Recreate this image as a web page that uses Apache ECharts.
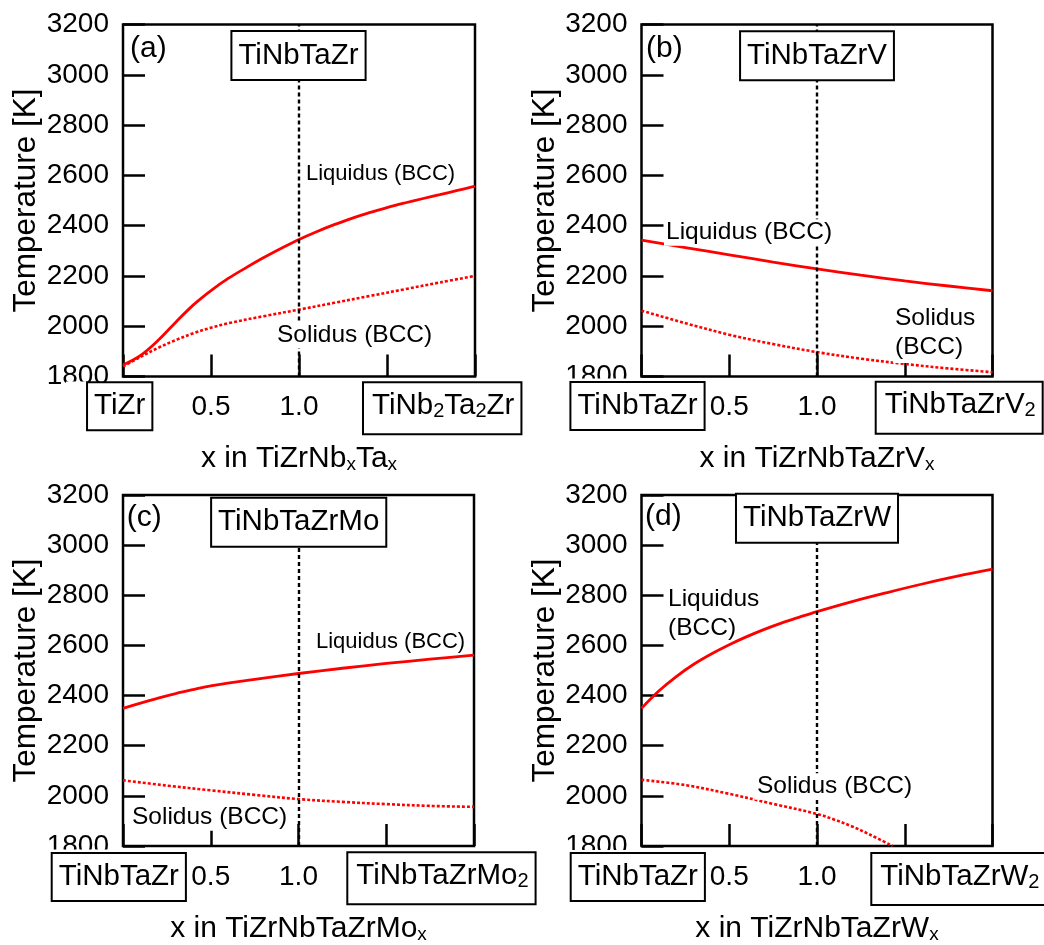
<!DOCTYPE html>
<html>
<head>
<meta charset="utf-8">
<script src="https://cdn.jsdelivr.net/npm/echarts@6/dist/echarts.min.js"></script>
<style>
  html, body { margin: 0; padding: 0; background: #fff; }
  #chart { width: 1044px; height: 945px; }
</style>
</head>
<body>
<div id="chart"></div>
<script>
// ---- Liquidus / solidus temperatures (K) versus composition x ----

// (a) TiZrNb_xTa_x
const aLiqX = [0, 0.1, 0.2, 0.3, 0.4, 0.5, 0.6, 0.7, 0.8, 0.9, 1.0, 1.1, 1.2, 1.3, 1.4, 1.5, 1.6, 1.7, 1.8, 1.9, 2.0];
const aLiq  = [1846, 1884, 1944, 2016, 2085, 2142, 2191, 2233, 2273, 2310, 2345, 2376, 2404, 2429, 2452, 2472, 2490, 2507, 2523, 2540, 2557];
const aSolX = [0, 0.1, 0.2, 0.3, 0.4, 0.5, 0.6, 0.8, 1.0, 1.2, 1.4, 1.6, 1.8, 2.0];
const aSol  = [1840, 1878, 1914, 1945, 1972, 1994, 2012, 2040, 2066, 2093, 2120, 2147, 2174, 2200];

// (b) TiZrNbTaZrV_x
const bX   = [0, 0.25, 0.5, 0.75, 1.0, 1.25, 1.5, 1.75, 2.0];
const bLiq = [2342, 2313, 2284, 2255, 2228, 2203, 2180, 2160, 2141];
const bSol = [2062, 2012, 1966, 1929, 1897, 1871, 1850, 1832, 1817];

// (c) TiZrNbTaZrMo_x
const cLiqX = [0, 0.1, 0.2, 0.3, 0.4, 0.5, 0.75, 1.0, 1.25, 1.5, 1.75, 2.0];
const cLiq  = [2349, 2370, 2390, 2408, 2424, 2439, 2465, 2488, 2509, 2528, 2545, 2561];
const cSolX = [0, 0.25, 0.5, 0.75, 1.0, 1.25, 1.5, 1.75, 2.0];
const cSol  = [2062, 2041, 2022, 2004, 1987, 1976, 1967, 1960, 1956];

// (d) TiZrNbTaZrW_x
const dLiqX = [0, 0.1, 0.2, 0.3, 0.4, 0.5, 0.6, 0.7, 0.8, 0.9, 1.0, 1.2, 1.4, 1.6, 1.8, 2.0];
const dLiq  = [2349, 2419, 2477, 2526, 2567, 2603, 2635, 2664, 2690, 2713, 2735, 2775, 2811, 2845, 2876, 2904];
const dSolX = [0, 0.25, 0.5, 0.75, 1.0, 1.1, 1.2, 1.3, 1.43];
const dSol  = [2064, 2043, 2008, 1968, 1928, 1905, 1878, 1846, 1800];

// axis ranges and labelled ticks
const xRange = [0, 2];
const xStep = 0.5;
const xLabelled = [0.5, 1.0];
const yRange = [1800, 3200];
const yStep = 200;
const refX = 1.0;   // equiatomic composition marker

// text
const yName = 'Temperature [K]';
const xNames = ['x in TiZrNb{s|x}Ta{s|x}', 'x in TiZrNbTaZrV{s|x}', 'x in TiZrNbTaZrMo{s|x}', 'x in TiZrNbTaZrW{s|x}'];
const panelTags = ['(a)', '(b)', '(c)', '(d)'];
const titles = ['TiNbTaZr', 'TiNbTaZrV', 'TiNbTaZrMo', 'TiNbTaZrW'];
const startAlloys = ['TiZr', 'TiNbTaZr', 'TiNbTaZr', 'TiNbTaZr'];
const endAlloys = ['TiNb{s|2}Ta{s|2}Zr', 'TiNbTaZrV{s|2}', 'TiNbTaZrMo{s|2}', 'TiNbTaZrW{s|2}'];

const FONT = '"Liberation Sans", Arial, Helvetica, sans-serif';
const RED = '#ff0000';

const zip = (xs, ys) => xs.map((x, i) => [x, ys[i]]);

const panels = [
  { grid: { left: 123, top: 24.5, width: 352, height: 352 }, liq: zip(aLiqX, aLiq), sol: zip(aSolX, aSol) },
  { grid: { left: 641.5, top: 24.5, width: 351, height: 352 }, liq: zip(bX, bLiq), sol: zip(bX, bSol) },
  { grid: { left: 123, top: 495, width: 351, height: 353 }, liq: zip(cLiqX, cLiq), sol: zip(cSolX, cSol) },
  { grid: { left: 641.5, top: 495, width: 351, height: 353.5 }, liq: zip(dLiqX, dLiq), sol: zip(dSolX, dSol) }
];

const tickStyle = { color: '#000', width: 2.5 };

const option = {
  animation: false,
  backgroundColor: '#fff',
  grid: panels.map(p => Object.assign({ show: true, borderColor: '#000', borderWidth: 2.5, backgroundColor: 'transparent' }, p.grid)),
  xAxis: panels.map((p, i) => ({
    gridIndex: i, type: 'value', min: xRange[0], max: xRange[1], interval: xStep,
    name: xNames[i], nameLocation: 'middle', nameGap: 67,
    nameTextStyle: {
      fontSize: 30, lineHeight: 31, color: '#000', fontFamily: FONT,
      rich: { s: { fontSize: 19, lineHeight: 9, verticalAlign: 'bottom', fontFamily: FONT, color: '#000' } }
    },
    axisLine: { show: false },
    axisTick: { inside: true, length: 22, lineStyle: tickStyle },
    axisLabel: {
      margin: 17, fontSize: 28, color: '#000', fontFamily: FONT,
      formatter: v => xLabelled.some(t => Math.abs(t - v) < 1e-9) ? v.toFixed(1) : ''
    },
    splitLine: { show: false }
  })),
  yAxis: panels.map((p, i) => ({
    gridIndex: i, type: 'value', min: yRange[0], max: yRange[1], interval: yStep,
    name: yName, nameLocation: 'middle', nameGap: 70,
    nameTextStyle: { fontSize: 31.5, lineHeight: 31, color: '#000', fontFamily: FONT },
    axisLine: { show: false },
    axisTick: { inside: true, length: 22, lineStyle: tickStyle },
    axisLabel: { margin: 14, fontSize: 28, color: '#000', fontFamily: FONT, formatter: v => String(v) },
    splitLine: { show: false }
  })),
  series: panels.flatMap((p, i) => [
    {
      name: 'Liquidus (BCC)', type: 'line', xAxisIndex: i, yAxisIndex: i,
      data: p.liq, symbol: 'none', smooth: 0.35, clip: true, silent: true,
      lineStyle: { color: RED, width: 2.8 },
      markLine: {
        silent: true, symbol: ['none', 'none'], label: { show: false },
        lineStyle: { color: '#000', width: 2.4, type: [4, 3] },
        data: [{ xAxis: refX }]
      }
    },
    {
      name: 'Solidus (BCC)', type: 'line', xAxisIndex: i, yAxisIndex: i,
      data: p.sol, symbol: 'none', smooth: 0.35, clip: true, silent: true,
      lineStyle: { color: RED, width: 2.6, type: [3, 2] }
    }
  ])
};

// framed alloy names (boxes carry a white fill)
const subRich = { s: { fontSize: 20, lineHeight: 9, verticalAlign: 'bottom', fontFamily: FONT, fill: '#000' } };
function framed(text, x, y, align, vAlign, padding) {
  return {
    type: 'text', x, y, z: 100, silent: true,
    style: {
      text, fontSize: 29.5, fontFamily: FONT, fill: '#000', align, verticalAlign: vAlign,
      lineHeight: 31, backgroundColor: '#fff', borderColor: '#000', borderWidth: 2,
      padding, rich: subRich
    }
  };
}
function note(text, x, y, size, lineHeight, plain) {
  const style = {
    text, fontSize: size, fontFamily: FONT, fill: '#000', align: 'left', verticalAlign: 'middle',
    lineHeight: lineHeight || size
  };
  if (!plain) { style.backgroundColor = '#fff'; style.padding = [1, 2]; }
  return { type: 'text', x, y, z: 90, silent: true, style };
}
// white strip between the frame and the start-alloy box (trims the lowest tick label)
function strip(x, y, w, h) {
  return { type: 'rect', z: 95, silent: true, shape: { x, y, width: w, height: h }, style: { fill: '#fff' } };
}

const titlePos = [[298.5, 55.5], [817, 55.7], [298.7, 522.3], [817, 518.3]];
const startPos = [[119.7, 406.2], [637.5, 406], [118.8, 877], [637.8, 877]];
const endPos = [[364, 383.3], [876.7, 382.7], [348.3, 853.3], [872.3, 854]];
const tagPos = [[130, 49], [646, 49], [126.7, 518], [645, 517]];

const elements = [
  strip(66, 381.5, 22, 4),
  strip(556, 378.5, 14, 6),
  strip(40, 849.5, 12, 6),
  strip(556, 850, 14, 6)
];
for (let i = 0; i < 4; i++) {
  elements.push(framed(titles[i], titlePos[i][0], titlePos[i][1], 'center', 'middle', [8, 6, 8, 6]));
  elements.push(framed(startAlloys[i], startPos[i][0], startPos[i][1], 'center', 'middle', [7, 6, 8, 6]));
  elements.push(framed(endAlloys[i], endPos[i][0], endPos[i][1], 'left', 'top', [7, 6, 12, 8]));
  elements.push({
    type: 'text', x: tagPos[i][0], y: tagPos[i][1], z: 90, silent: true,
    style: { text: panelTags[i], fontSize: 30, fontFamily: FONT, fill: '#000', align: 'left', verticalAlign: 'middle' }
  });
}
// white bands directly above the start-alloy boxes in (b)-(d)
elements.push(
  strip(570, 378.5, 137, 5),
  strip(50, 849.5, 138, 5),
  strip(569, 850, 138, 5)
);
elements.push(
  note('Liquidus (BCC)', 304, 174, 22),
  note('Solidus (BCC)', 275, 335, 24.5),
  note('Liquidus (BCC)', 664, 232.5, 24.5),
  note('Solidus\n(BCC)', 893, 332.5, 24.5, 29.5),
  note('Liquidus (BCC)', 314, 641.5, 22),
  note('Solidus (BCC)', 130, 817.5, 24.5),
  note('Liquidus\n(BCC)', 668, 613.5, 24.5, 28.5, true),
  note('Solidus (BCC)', 755, 786.5, 24.5)
);
option.graphic = { elements };

const chart = echarts.init(document.getElementById('chart'), null, { renderer: 'canvas' });
chart.setOption(option);
</script>
</body>
</html>
